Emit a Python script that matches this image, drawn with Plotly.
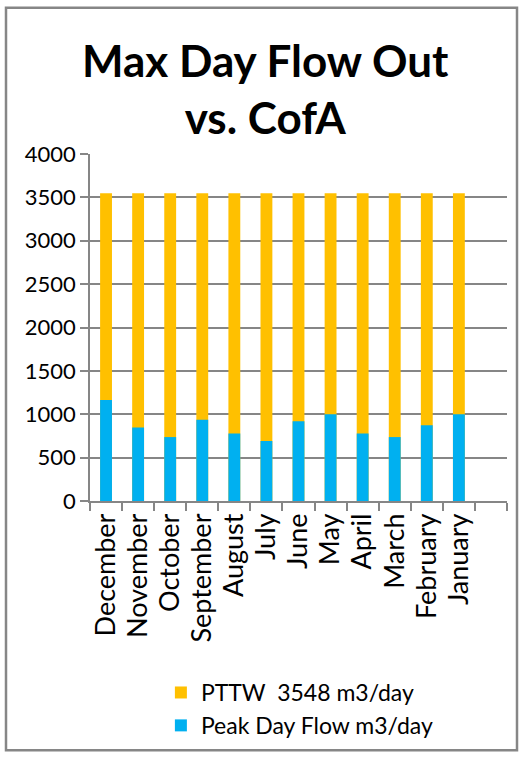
import plotly.graph_objects as go

months = ["December", "November", "October", "September", "August", "July",
          "June", "May", "April", "March", "February", "January", " "]
peak_flow = [1165, 847, 737, 938, 778, 692, 920, 1000, 778, 737, 874, 1000, None]
pttw = [3548] * 12 + [None]

ORANGE = "#FFC000"
BLUE = "#00B0F0"
GRID = "#868686"
FONT = "Lato"

fig = go.Figure()
fig.add_trace(go.Bar(x=months, y=pttw, name="PTTW  3548 m3/day",
                     marker=dict(color=ORANGE, line=dict(width=0)), width=0.37))
fig.add_trace(go.Bar(x=months, y=peak_flow, name="Peak Day Flow m3/day",
                     marker=dict(color=BLUE, line=dict(width=0)), width=0.37))

fig.update_layout(
    width=519, height=759,
    margin=dict(l=90, r=12, t=154, b=254),
    paper_bgcolor="white", plot_bgcolor="white",
    barmode="overlay",
    font=dict(family=FONT, size=22, color="black"),
    showlegend=True,
    legend=dict(x=0.17, xanchor="left", y=-0.49, yanchor="top",
                font=dict(family=FONT, size=23), tracegroupgap=0,
                bgcolor="rgba(0,0,0,0)", itemwidth=30),
    xaxis=dict(type="category", categoryorder="array", categoryarray=months,
               tickangle=-90, showgrid=False, showline=True, linecolor=GRID,
               linewidth=1.5, ticks="outside", ticklen=8, tickcolor=GRID,
               tickwidth=1.5, tickson="boundaries",
               tickfont=dict(family=FONT, size=27)),
    yaxis=dict(range=[0, 4000], dtick=500, showgrid=True, gridcolor=GRID,
               gridwidth=1.5, showline=True, linecolor=GRID, linewidth=1.5,
               ticks="outside", ticklen=8, tickcolor=GRID, tickwidth=1.5,
               zeroline=False, tickfont=dict(family=FONT, size=22)),
    annotations=[dict(text="<b>Max Day Flow Out<br>vs. CofA</b>",
                      xref="paper", yref="paper", x=(265 - 90) / 417,
                      y=1 + (154 - 88) / 351, xanchor="center",
                      yanchor="middle", showarrow=False,
                      font=dict(family=FONT, size=44, color="black"))],
    shapes=[dict(type="rect", xref="paper", yref="paper",
                 x0=-84/417, x1=427/417, y0=-252/351, y1=499/351,
                 line=dict(color=GRID, width=2.5), fillcolor="rgba(0,0,0,0)",
                 layer="below")],
)

fig.write_html("out.html")
